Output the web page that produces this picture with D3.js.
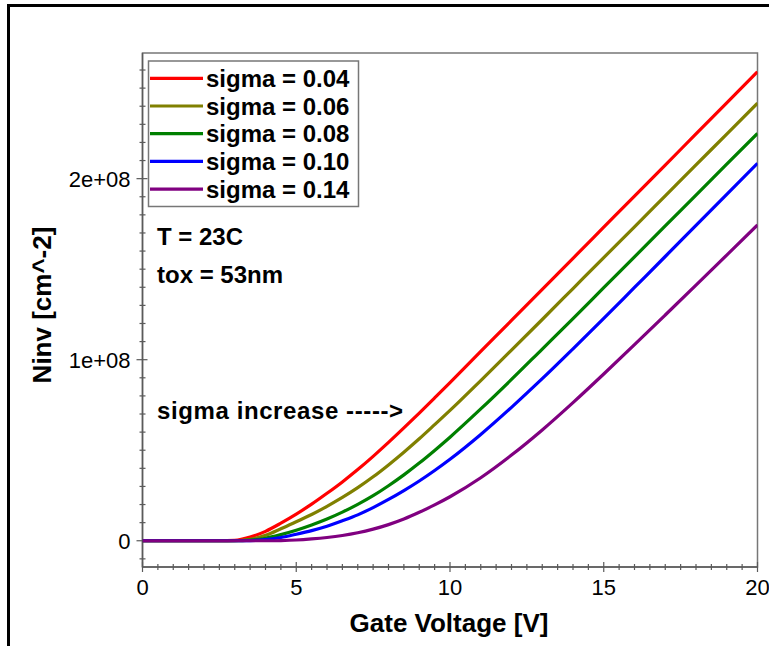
<!DOCTYPE html>
<html>
<head lang="en">
    <meta charset="UTF-8">
    <title>Ninv vs Gate Voltage</title>
    <script src="https://d3js.org/d3.v7.min.js"></script>
    <style>
        body { margin: 0; background: #fff; }
        text { font-family: "Liberation Sans", Arial, sans-serif; }
    </style>
</head>
<body>
<div id="chartContainer"></div>
<script type="text/javascript">

    // gate voltage sample points [V]
    var voltage = [0, 1, 2, 2.5, 3, 3.5, 4, 4.5, 5, 5.5, 6, 6.5, 7, 7.5, 8, 8.5, 9, 9.5, 10, 11, 12, 13, 14, 15, 16, 17, 18, 19, 20];

    // Ninv in units of 1e8 cm^-2, one array per sigma
    var ninv004 = [0, 0, 0, 0, 0.002, 0.02, 0.052, 0.097, 0.147, 0.202, 0.262, 0.325, 0.393, 0.466, 0.543, 0.623, 0.705, 0.789, 0.874, 1.046, 1.217, 1.389, 1.56, 1.732, 1.904, 2.075, 2.247, 2.418, 2.59];
    var ninv006 = [0, 0, 0, 0, 0, 0.008, 0.03, 0.066, 0.105, 0.145, 0.19, 0.239, 0.293, 0.353, 0.419, 0.489, 0.563, 0.641, 0.72, 0.885, 1.053, 1.222, 1.393, 1.564, 1.734, 1.905, 2.076, 2.246, 2.417];
    var ninv008 = [0, 0, 0, 0, 0, 0.003, 0.014, 0.034, 0.058, 0.087, 0.12, 0.158, 0.201, 0.249, 0.304, 0.364, 0.429, 0.499, 0.572, 0.728, 0.891, 1.059, 1.227, 1.398, 1.568, 1.739, 1.909, 2.08, 2.25];
    var ninv010 = [0, 0, 0, 0, 0, 0.001, 0.006, 0.018, 0.036, 0.056, 0.08, 0.11, 0.143, 0.183, 0.228, 0.277, 0.33, 0.388, 0.45, 0.587, 0.737, 0.895, 1.06, 1.228, 1.399, 1.57, 1.742, 1.913, 2.085];
    var ninv014 = [0, 0, 0, 0, 0, 0, 0, 0.001, 0.004, 0.01, 0.018, 0.029, 0.044, 0.064, 0.089, 0.12, 0.157, 0.198, 0.243, 0.348, 0.473, 0.612, 0.763, 0.921, 1.083, 1.247, 1.412, 1.578, 1.744];

    var seriesNames = ["sigma = 0.04", "sigma = 0.06", "sigma = 0.08", "sigma = 0.10", "sigma = 0.14"];
    var seriesValues = [ninv004, ninv006, ninv008, ninv010, ninv014];
    var seriesColors = ["#ff0000", "#808000", "#008000", "#0000ff", "#800080"];

    var xTickValues = [0, 5, 10, 15, 20];
    var yTickValues = [0, 1e8, 2e8];
    var yTickLabels = ["0", "1e+08", "2e+08"];

    var W = 769, H = 646;
    var axisColor = "#5a5a5a";

    var svg = d3.select("#chartContainer").append("svg")
        .attr("width", W).attr("height", H);

    // outer black frame (right/bottom edges fall outside the picture)
    svg.append("rect")
        .attr("x", 8.5).attr("y", 5.5)
        .attr("width", 820).attr("height", 700)
        .attr("fill", "none").attr("stroke", "#000").attr("stroke-width", 3);

    var x = d3.scaleLinear().domain([0, 20]).range([142.5, 757.5]);
    var y = d3.scaleLinear().domain([-0.145e8, 2.694e8]).range([567, 53]);

    // plot border
    svg.append("rect")
        .attr("x", x(0)).attr("y", y.range()[1])
        .attr("width", x(20) - x(0)).attr("height", y.range()[0] - y.range()[1])
        .attr("fill", "none").attr("stroke", "#777").attr("stroke-width", 1.5);

    svg.append("defs").append("clipPath").attr("id", "plotClip")
        .append("rect")
        .attr("x", x(0)).attr("y", y.range()[1])
        .attr("width", x(20) - x(0)).attr("height", y.range()[0] - y.range()[1]);

    // x axis: minor ticks every 0.5 V, major every 5 V
    var xMinor = d3.range(0, 20.01, 0.5);
    var xAxisG = svg.append("g").attr("transform", "translate(0," + y.range()[0] + ")");
    xAxisG.append("line")
        .attr("x1", x(0)).attr("x2", x(20))
        .attr("stroke", axisColor).attr("stroke-width", 1.5);
    xAxisG.selectAll("line.minor").data(xMinor).enter().append("line")
        .attr("class", "minor")
        .attr("x1", function (d) { return x(d); })
        .attr("x2", function (d) { return x(d); })
        .attr("y1", function (d) { return d % 5 === 0 ? -5 : -3; })
        .attr("y2", function (d) { return d % 5 === 0 ? 5 : 3; })
        .attr("stroke", axisColor).attr("stroke-width", 1.2);
    xAxisG.selectAll("text").data(xTickValues).enter().append("text")
        .attr("x", function (d) { return x(d); })
        .attr("y", 28)
        .attr("text-anchor", "middle")
        .style("font-size", "22px")
        .text(function (d) { return d; });

    // y axis: minor ticks every 1e7, major every 1e8
    var yMinor = d3.range(-1, 27).map(function (i) { return i * 1e7; });
    var yAxisG = svg.append("g").attr("transform", "translate(" + x(0) + ",0)");
    yAxisG.append("line")
        .attr("y1", y.range()[0]).attr("y2", y.range()[1])
        .attr("stroke", axisColor).attr("stroke-width", 1.5);
    yAxisG.selectAll("line.minor").data(yMinor).enter().append("line")
        .attr("class", "minor")
        .attr("y1", function (d) { return y(d); })
        .attr("y2", function (d) { return y(d); })
        .attr("x1", function (d) { return d % 1e8 === 0 ? -6 : -3; })
        .attr("x2", function (d) { return d % 1e8 === 0 ? 5 : 3; })
        .attr("stroke", axisColor).attr("stroke-width", 1.2);
    yAxisG.selectAll("text").data(yTickValues).enter().append("text")
        .attr("x", -12)
        .attr("y", function (d) { return y(d) + 8; })
        .attr("text-anchor", "end")
        .style("font-size", "22px")
        .text(function (d, i) { return yTickLabels[i]; });

    // curves
    var line = d3.line()
        .x(function (d) { return x(d[0]); })
        .y(function (d) { return y(d[1] * 1e8); })
        .curve(d3.curveMonotoneX);

    svg.append("g").attr("clip-path", "url(#plotClip)")
        .selectAll("path").data(seriesValues).enter().append("path")
        .attr("d", function (vals) {
            return line(vals.map(function (v, i) { return [voltage[i], v]; }));
        })
        .attr("fill", "none")
        .attr("stroke", function (d, i) { return seriesColors[i]; })
        .attr("stroke-width", 3.2);

    // legend
    var legend = svg.append("g");
    legend.append("rect")
        .attr("x", 148.5).attr("y", 61)
        .attr("width", 210).attr("height", 145.5)
        .attr("fill", "#fff").attr("stroke", "#777").attr("stroke-width", 1.5);
    var items = legend.selectAll("g.item").data(seriesNames).enter().append("g")
        .attr("class", "item")
        .attr("transform", function (d, i) { return "translate(0," + (78.3 + i * 27.7) + ")"; });
    items.append("line")
        .attr("x1", 150).attr("x2", 203)
        .attr("stroke", function (d, i) { return seriesColors[i]; })
        .attr("stroke-width", 3.2);
    items.append("text")
        .attr("x", 206).attr("y", 8.5)
        .style("font-size", "24px").style("font-weight", "bold")
        .text(function (d) { return d; });

    // annotations
    var notes = [
        { t: "T = 23C", x: 157, y: 245 },
        { t: "tox = 53nm", x: 157, y: 283 },
        { t: "sigma increase ----->", x: 157, y: 419 }
    ];
    svg.selectAll("text.note").data(notes).enter().append("text")
        .attr("class", "note")
        .attr("x", function (d) { return d.x; })
        .attr("y", function (d) { return d.y; })
        .style("font-size", "24px").style("font-weight", "bold")
        .style("letter-spacing", function (d, i) { return i === 2 ? "0.6px" : "0px"; })
        .text(function (d) { return d.t; });

    // axis titles
    svg.append("text")
        .attr("x", (x(0) + x(20)) / 2 - 1).attr("y", 632)
        .attr("text-anchor", "middle")
        .style("font-size", "26px").style("font-weight", "bold")
        .text("Gate Voltage [V]");
    svg.append("text")
        .attr("transform", "translate(51,305) rotate(-90)")
        .attr("text-anchor", "middle")
        .style("font-size", "26px").style("font-weight", "bold")
        .text("Ninv [cm^-2]");
</script>
</body>
</html>
